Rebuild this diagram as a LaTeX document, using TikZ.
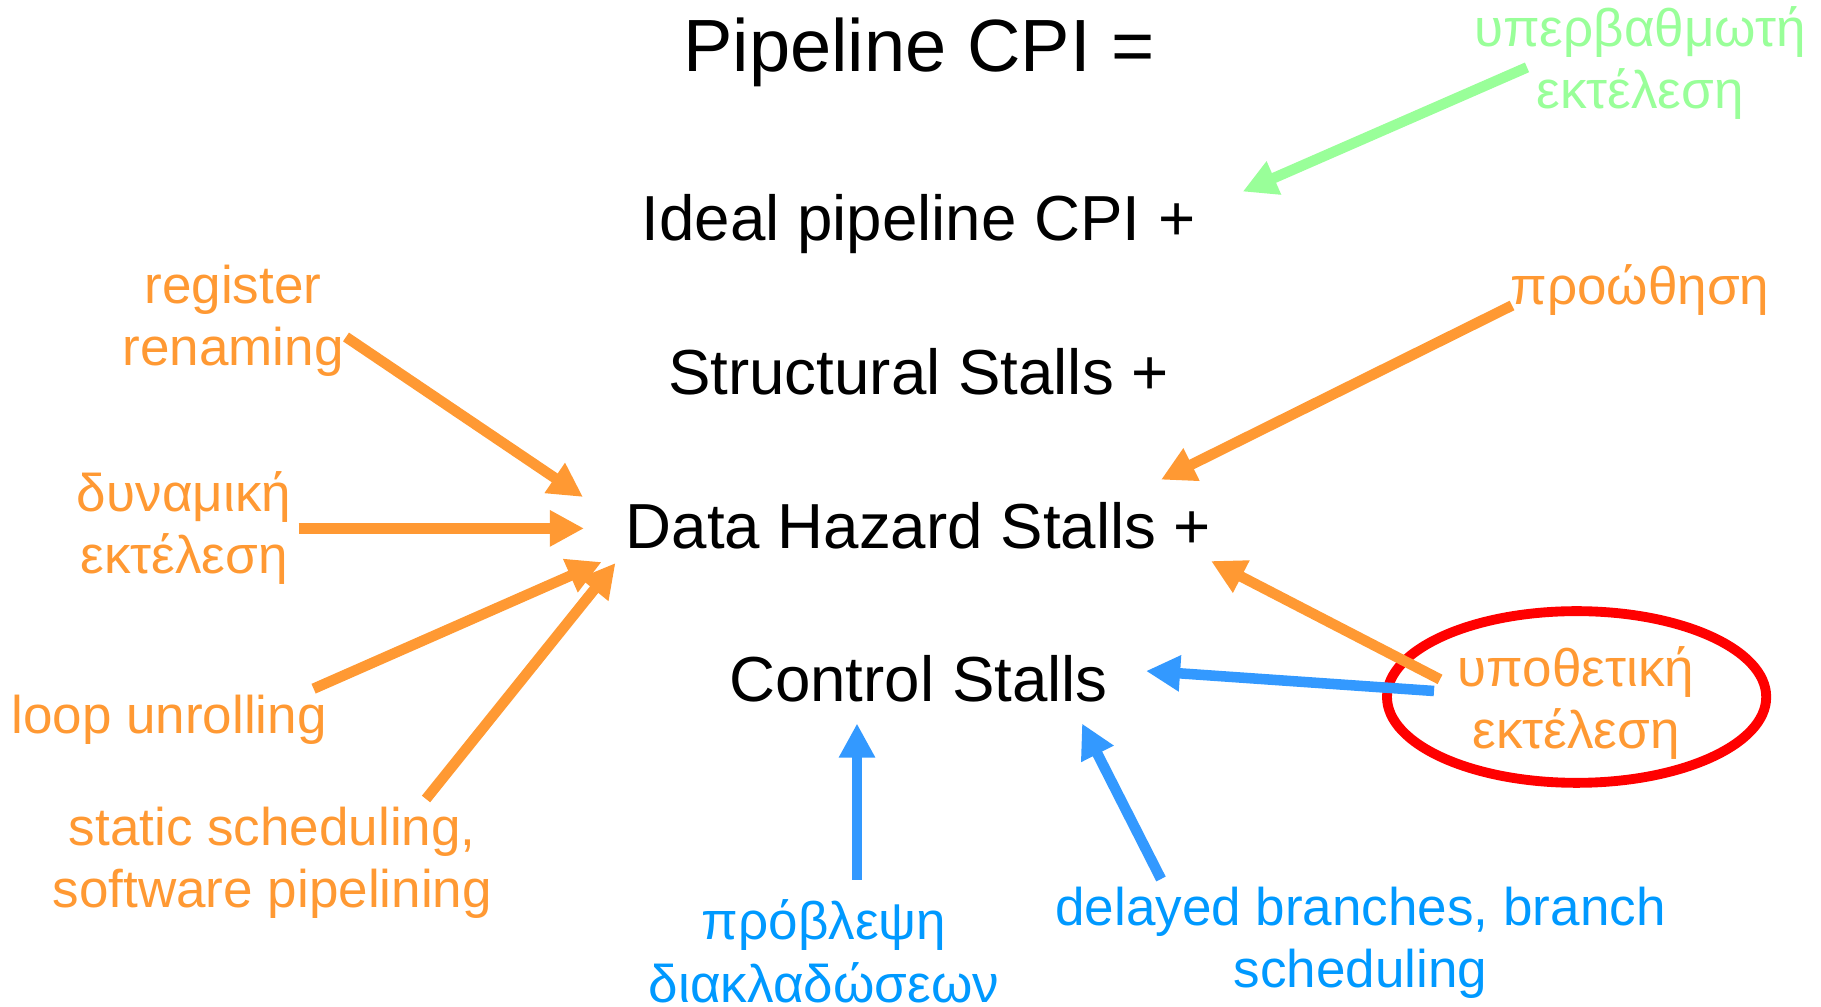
\documentclass[tikz,border=0pt]{standalone}
\usepackage{fontspec}
\setmainfont{Liberation Sans}
\usetikzlibrary{arrows.meta}
\definecolor{org}{HTML}{FF9933}
\definecolor{blu}{HTML}{3399FF}
\definecolor{blutext}{HTML}{0099FF}
\definecolor{grn}{HTML}{99FF99}
\begin{document}
\begin{tikzpicture}[x=0.01cm,y=-0.01cm,
  big/.style={font=\fontsize{21.05}{25}\selectfont, anchor=base, inner sep=0pt},
  term/.style={font=\fontsize{18.1}{22}\selectfont, anchor=base, inner sep=0pt},
  lbl/.style={font=\fontsize{15.08}{17.64}\selectfont, align=center, anchor=base, inner sep=0pt},
  arr/.style={line width=3pt, -{Triangle[length=9.7pt,width=9.7pt]}},
]
\useasboundingbox (0,0) rectangle (1821,1007);
% central formula
\node[big]  (pcpi) at (919,72)    {Pipeline CPI =};
\node[term] (ideal) at (918.5,240.4) {Ideal pipeline CPI +};
\node[term] (struct) at (918.5,394.9) {Structural Stalls +};
\node[term] (data) at (918.5,548.2) {Data Hazard Stalls +};
\node[term] (ctrl) at (918.5,701.5) {Control Stalls};
% labels (anchor = baseline of the last line)
\node[lbl, text=org] (rr) at (233,366) {register\\renaming};
\node[lbl, text=org] (dyn) at (184,574) {δυναμική\\εκτέλεση};
\node[lbl, text=org] (loop) at (169,734) {loop unrolling};
\node[lbl, text=org] (stat) at (272.3,908) {static scheduling,\\software pipelining};
\node[lbl, text=org] (fwd) at (1640,305) {προώθηση};
\node[lbl, text=org] (spec) at (1576,749) {υποθετική\\εκτέλεση};
\node[lbl, text=grn] (sup) at (1640,109) {υπερβαθμωτή\\εκτέλεση};
\node[lbl, text=blutext] (pred) at (824,1002) {πρόβλεψη\\διακλαδώσεων};
\node[lbl, text=blutext] (dly) at (1360.5,988) {delayed branches, branch\\scheduling};
% ring
\coordinate (ringc) at (1576.6,697);
\draw[red, line width=2.8pt] (ringc) ellipse [x radius=1.895cm, y radius=0.858cm];
% arrow end points
\coordinate (rrS) at (346,337);   \coordinate (rrT) at (583,497);
\coordinate (dynS) at (298.5,528.4); \coordinate (dynT) at (584,528.4);
\coordinate (loopS) at (313.6,688.7); \coordinate (loopT) at (601.6,562);
\coordinate (statS) at (426,799); \coordinate (statT) at (615.5,563);
\coordinate (fwdS) at (1512,305.5); \coordinate (fwdT) at (1161,479.7);
\coordinate (specS1) at (1440,679.4); \coordinate (specT1) at (1211,561);
\coordinate (specS2) at (1434,691); \coordinate (specT2) at (1146,671);
\coordinate (predS) at (857,880); \coordinate (predT) at (857,723.5);
\coordinate (dlyS) at (1161,879); \coordinate (dlyT) at (1082,723.5);
\coordinate (supS) at (1527,67.4); \coordinate (supT) at (1242.7,191.6);
% arrows
\draw[arr, org] (rrS) -- (rrT);
\draw[arr, org] (dynS) -- (dynT);
\draw[arr, org] (loopS) -- (loopT);
\draw[arr, org] (statS) -- (statT);
\draw[arr, org] (fwdS) -- (fwdT);
\draw[arr, org] (specS1) -- (specT1);
\draw[arr, blu] (specS2) -- (specT2);
\draw[arr, blu] (predS) -- (predT);
\draw[arr, blu] (dlyS) -- (dlyT);
\draw[arr, grn] (supS) -- (supT);
\end{tikzpicture}
\end{document}
